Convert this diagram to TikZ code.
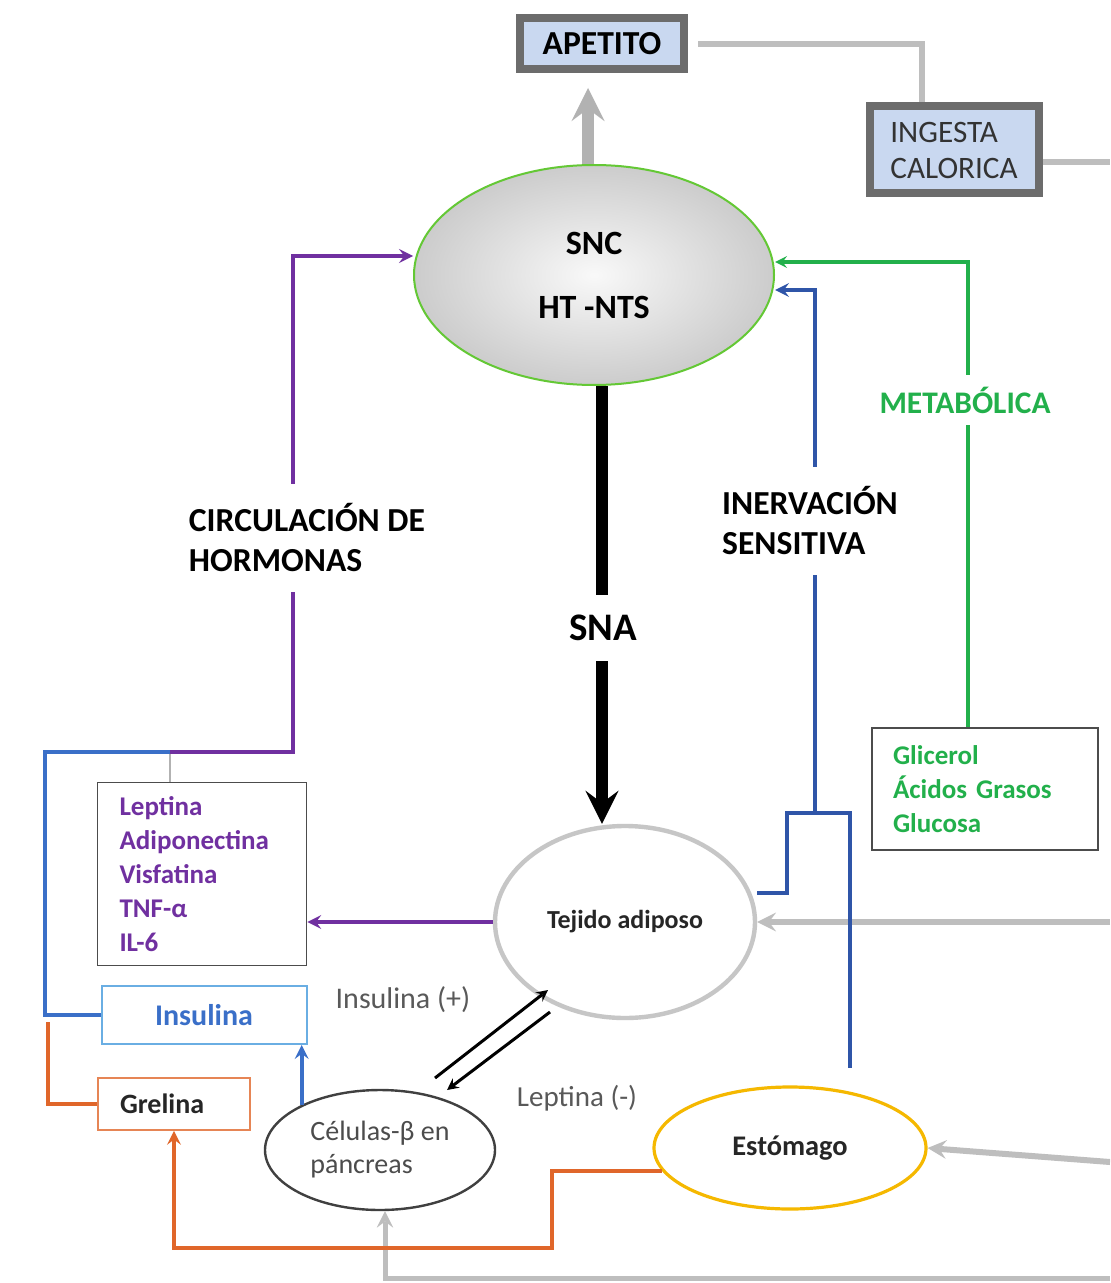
\documentclass[tikz,border=0pt]{standalone}
\usepackage{fontspec}
\setmainfont{Carlito}
\usepackage{tikz}
\usetikzlibrary{shapes.geometric,arrows}

\definecolor{hormona}{HTML}{7030A0}
\definecolor{nervio}{HTML}{2F55A8}
\definecolor{azulins}{HTML}{3A6FC8}
\definecolor{metab}{HTML}{22B04B}
\definecolor{naranja}{HTML}{E0662A}
\definecolor{oro}{HTML}{F5B800}
\definecolor{grisl}{HTML}{BEBEBE}
\definecolor{cajaazul}{HTML}{C9D8F0}

\begin{document}
\begin{tikzpicture}[x=0.5pt,y=-0.5pt,>=stealth,
	topbox/.style={draw=gray!85!black,line width=4pt,fill=cajaazul},
	listbox/.style={draw=gray!60!black,line width=0.8pt,align=left},
	lbl/.style={fill=white,align=left,inner ysep=10pt,font=\bfseries\fontsize{16.8}{20}\selectfont},
	hlink/.style={line width=2pt}]
	\useasboundingbox[fill=white] (0,0) rectangle (1110,1283);
	
	\node[topbox,minimum width=82pt,minimum height=25.5pt,font=\bfseries\fontsize{16.8}{19}\selectfont] (apetito) at (602,44) {APETITO};
	\node[topbox,minimum width=84.5pt,minimum height=43.5pt,align=left,text=black!80,font=\fontsize{15.6}{18}\selectfont] (ingesta) at (954,150) {INGESTA\\CALORICA};
	
	\node[ellipse,draw=metab!70!yellow,line width=1pt,inner color=gray!5,outer color=gray!40,minimum width=180pt,minimum height=110pt,align=center,font=\bfseries\fontsize{17}{19}\selectfont] (snc) at (594,275) {SNC\\[13pt]HT -NTS};
	\node[ellipse,draw=gray!45,line width=2.2pt,fill=white,minimum width=130pt,minimum height=96pt,font=\bfseries\fontsize{13}{15}\selectfont,text=black!85] (adip) at (625,922) {Tejido adiposo};
	\node[ellipse,draw=oro,line width=1.6pt,minimum width=136pt,minimum height=61pt,font=\bfseries\fontsize{14.2}{16}\selectfont,text=black!85] (stom) at (790,1148) {Estómago};
	\node[ellipse,draw=black!75,line width=1.2pt,minimum width=115pt,minimum height=60pt,align=left,font=\fontsize{14}{16.5}\selectfont,text=black!70] (cel) at (380,1150) {Células-β en\\páncreas};
	
	\node[listbox,text width=82.5pt,inner xsep=11pt,minimum height=91.5pt,text=hormona,font=\bfseries\fontsize{13.5}{17}\selectfont] (lep) at (202,874) {Leptina\\Adiponectina\\Visfatina\\TNF-α\\IL-6};
	\node[draw=cyan!70!blue!60,line width=1pt,minimum width=102.5pt,minimum height=29pt,text=azulins,font=\bfseries\fontsize{15}{17}\selectfont] (ins) at (204,1015) {Insulina};
	\node[draw=naranja!80,line width=0.8pt,text width=54pt,inner xsep=11pt,minimum height=26pt,align=left,font=\bfseries\fontsize{14}{16}\selectfont,text=black!85] (grel) at (174,1104) {Grelina};
	\node[listbox,text width=92pt,inner xsep=10.5pt,minimum height=61pt,text=metab,font=\bfseries\fontsize{13.5}{17}\selectfont] (glic) at (985,789) {Glicerol\\Ácidos Grasos\\Glucosa};
	
	\coordinate (hj) at (170,752);
	\coordinate (nj) at (815,813);
	\coordinate (insA) at (435,1078);
	\coordinate (insB) at (548,990);
	\coordinate (lepA) at (550,1012);
	\coordinate (lepB) at (447,1090);
	
	% gray links
	\draw[grisl,line width=3pt,shorten <=5pt] (apetito.east) -| (ingesta.north -| 922,0);
	\draw[grisl,line width=3pt] (ingesta.east |- 0,162) -- (1110,162);
	\draw[->,gray!60,line width=6pt] (snc.north -| 588,0) -- (588,88);
	\draw[->,grisl,line width=3pt] (1110,922) -- (adip.east);
	\draw[->,grisl,line width=3pt] (1110,1162) -- (stom.east);
	\draw[->,grisl,line width=2.5pt] (1110,1278) -- (385,1278) -- (cel.south -| 385,0);
	
	% hormonas
	\draw[gray!60,line width=0.8pt] (hj |- lep.north) -- (hj);
	\draw[azulins,hlink] (ins.west) -| (45,752) -- (hj);
	\draw[naranja,hlink] (grel.west) -| (48,1022);
	\draw[->,hormona,hlink] (hj) -- (293,752) -- (293,256) -- (snc.west |- 0,256);
	\draw[->,hormona,hlink] (adip.west) -- (adip.west -| lep.east);
	\draw[->,azulins,hlink] (cel.150) -- (cel.150 |- ins.south);
	\draw[->,naranja,hlink] (stom.190) -- (stom.190 -| 552,0) -- (552,1248) -| (grel.south);
	
	% SNA y aferencias
	\draw[->,line width=6pt] (snc.south -| 602,0) -- (adip.north -| 602,0);
	\draw[nervio,hlink] (adip.east |- 0,893) -- (787,893) -- (787,813) -- (850,813) -- (850,1068);
	\draw[->,nervio,hlink] (nj) -- (815,290) -- (snc.east |- 0,290);
	\draw[->,metab,line width=1.6pt] (glic.north -| 968,0) -- (968,262) -- (snc.east |- 0,262);
	
	\draw[->,line width=1.5pt] (insA) -- (insB);
	\draw[->,line width=1.5pt] (lepA) -- (lepB);
	
	\node[lbl] (circ) at (307,538) {CIRCULACIÓN DE\\HORMONAS};
	\node[lbl] (inerv) at (810,521) {INERVACIÓN\\SENSITIVA};
	\node[lbl,text=metab,inner ysep=6pt,font=\bfseries\fontsize{15.7}{18}\selectfont] (metlbl) at (965,400) {METABÓLICA};
	\node[lbl,font=\bfseries\fontsize{19.5}{22}\selectfont] (sna) at (603,628) {SNA};
	\node[text=black!65,font=\fontsize{15}{17}\selectfont] (insl) at (403,1000) {Insulina (+)};
	\node[text=black!65,font=\fontsize{14.5}{17}\selectfont] (lepl) at (577,1098) {Leptina (-)};
\end{tikzpicture}
\end{document}
